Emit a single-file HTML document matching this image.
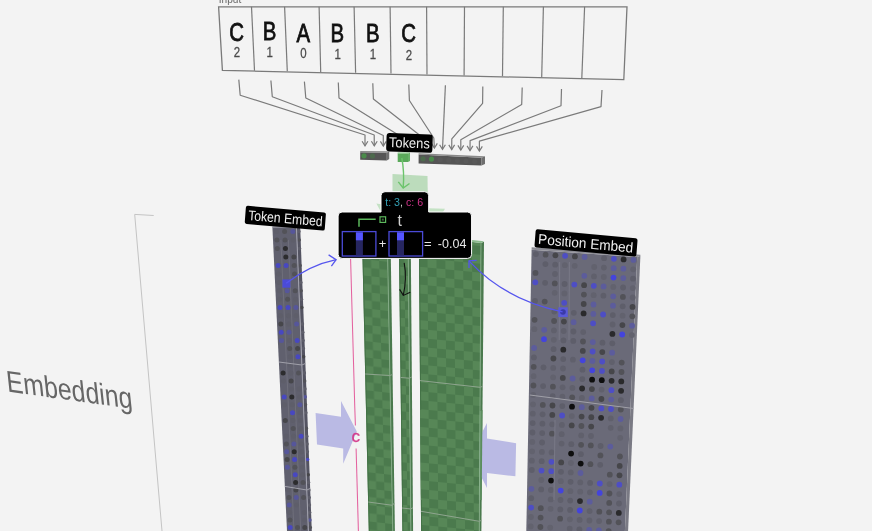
<!DOCTYPE html><html><head><meta charset="utf-8"><style>html,body{margin:0;padding:0;background:#f3f3f3;overflow:hidden}svg{display:block;filter:blur(0.35px)}text{font-family:"Liberation Sans",sans-serif}</style></head><body><svg width="872" height="531" viewBox="0 0 872 531" font-family="Liberation Sans, sans-serif"><rect width="872" height="531" fill="#f3f3f3"/>
<polyline points="153.7,215.5 134.7,214.4 162,531" fill="none" stroke="#c4c4c4" stroke-width="1" />
<text transform="translate(7.6,391.6) rotate(7.8) skewX(14)" font-size="29.5" fill="#666" textLength="127" lengthAdjust="spacingAndGlyphs">Embedding</text>
<text x="218.8" y="3" font-size="10.5" fill="#666" textLength="22.5" lengthAdjust="spacingAndGlyphs">Input</text>
<polygon points="218.6,6.8 627,6.8 623.8,79.7 222.4,70.4" fill="none" stroke="#7a7a7a" stroke-width="1.3"/>
<polyline points="251.5,6.8 254.5,70.8" fill="none" stroke="#7a7a7a" stroke-width="1.2" />
<polyline points="284.6,6.8 287.3,71.3" fill="none" stroke="#7a7a7a" stroke-width="1.2" />
<polyline points="319.1,6.8 320.7,72.1" fill="none" stroke="#7a7a7a" stroke-width="1.2" />
<polyline points="354.1,6.8 355.6,72.8" fill="none" stroke="#7a7a7a" stroke-width="1.2" />
<polyline points="390.1,6.8 391,73.5" fill="none" stroke="#7a7a7a" stroke-width="1.2" />
<polyline points="426.6,6.8 427,74.5" fill="none" stroke="#7a7a7a" stroke-width="1.2" />
<polyline points="464.5,6.8 464.1,75.5" fill="none" stroke="#7a7a7a" stroke-width="1.2" />
<polyline points="503.3,6.8 502.5,76.3" fill="none" stroke="#7a7a7a" stroke-width="1.2" />
<polyline points="543.4,6.8 541.7,77.2" fill="none" stroke="#7a7a7a" stroke-width="1.2" />
<polyline points="584.6,6.8 581.8,78.5" fill="none" stroke="#7a7a7a" stroke-width="1.2" />
<text transform="translate(236.6,40.6) scale(0.8,1)" font-size="25.5" text-anchor="middle" fill="#111" stroke="#111" stroke-width="0.8">C</text>
<text transform="translate(236.9,56.7) scale(0.82,1)" font-size="14" text-anchor="middle" fill="#4a4a4a" stroke="#4a4a4a" stroke-width="0.25">2</text>
<text transform="translate(269.5,40.4) scale(0.8,1)" font-size="25.5" text-anchor="middle" fill="#111" stroke="#111" stroke-width="0.8">B</text>
<text transform="translate(269.8,57.2) scale(0.82,1)" font-size="14" text-anchor="middle" fill="#4a4a4a" stroke="#4a4a4a" stroke-width="0.25">1</text>
<text transform="translate(303.2,41.5) scale(0.8,1)" font-size="25.5" text-anchor="middle" fill="#111" stroke="#111" stroke-width="0.8">A</text>
<text transform="translate(303.5,58.2) scale(0.82,1)" font-size="14" text-anchor="middle" fill="#4a4a4a" stroke="#4a4a4a" stroke-width="0.25">0</text>
<text transform="translate(337.4,41.5) scale(0.8,1)" font-size="25.5" text-anchor="middle" fill="#111" stroke="#111" stroke-width="0.8">B</text>
<text transform="translate(337.7,58.8) scale(0.82,1)" font-size="14" text-anchor="middle" fill="#4a4a4a" stroke="#4a4a4a" stroke-width="0.25">1</text>
<text transform="translate(372.7,41.8) scale(0.8,1)" font-size="25.5" text-anchor="middle" fill="#111" stroke="#111" stroke-width="0.8">B</text>
<text transform="translate(373,59.2) scale(0.82,1)" font-size="14" text-anchor="middle" fill="#4a4a4a" stroke="#4a4a4a" stroke-width="0.25">1</text>
<text transform="translate(408.6,42.3) scale(0.8,1)" font-size="25.5" text-anchor="middle" fill="#111" stroke="#111" stroke-width="0.8">C</text>
<text transform="translate(408.9,60) scale(0.82,1)" font-size="14" text-anchor="middle" fill="#4a4a4a" stroke="#4a4a4a" stroke-width="0.25">2</text>
<polyline points="238.8,79.6 240.2,95.2 365,135 365,145.8" fill="none" stroke="#7a7a7a" stroke-width="1.2" stroke-linejoin="round"/>
<polyline points="362.1,141.2 365,145.8 367.9,141.2" fill="none" stroke="#7a7a7a" stroke-width="1.2" />
<polyline points="270.9,80.5 272.3,96.8 374.2,135 374.3,145.8" fill="none" stroke="#7a7a7a" stroke-width="1.2" stroke-linejoin="round"/>
<polyline points="371.4,141.2 374.3,145.8 377.2,141.2" fill="none" stroke="#7a7a7a" stroke-width="1.2" />
<polyline points="304.4,81.6 305.8,98 383.3,135.5 383.3,146" fill="none" stroke="#7a7a7a" stroke-width="1.2" stroke-linejoin="round"/>
<polyline points="380.4,141.4 383.3,146 386.2,141.4" fill="none" stroke="#7a7a7a" stroke-width="1.2" />
<polyline points="338.3,82.5 339,98 400,136 401,146" fill="none" stroke="#7a7a7a" stroke-width="1.2" stroke-linejoin="round"/>
<polyline points="398.1,141.4 401,146 403.9,141.4" fill="none" stroke="#7a7a7a" stroke-width="1.2" />
<polyline points="372.8,83.3 373.4,99 422,137 422.3,147" fill="none" stroke="#7a7a7a" stroke-width="1.2" stroke-linejoin="round"/>
<polyline points="419.4,142.4 422.3,147 425.2,142.4" fill="none" stroke="#7a7a7a" stroke-width="1.2" />
<polyline points="408.8,84.6 409.4,100.5 433.8,138 434.4,148" fill="none" stroke="#7a7a7a" stroke-width="1.2" stroke-linejoin="round"/>
<polyline points="431.5,143.4 434.4,148 437.3,143.4" fill="none" stroke="#7a7a7a" stroke-width="1.2" />
<polyline points="445.4,85.3 442.5,149.3" fill="none" stroke="#7a7a7a" stroke-width="1.2" stroke-linejoin="round"/>
<polyline points="439.6,144.7 442.5,149.3 445.4,144.7" fill="none" stroke="#7a7a7a" stroke-width="1.2" />
<polyline points="482.8,86.4 482.6,103.3 451.8,138.8 451.7,149.5" fill="none" stroke="#7a7a7a" stroke-width="1.2" stroke-linejoin="round"/>
<polyline points="448.8,144.9 451.7,149.5 454.6,144.9" fill="none" stroke="#7a7a7a" stroke-width="1.2" />
<polyline points="522.2,87.6 521.7,104.5 460.8,139.7 460.8,150" fill="none" stroke="#7a7a7a" stroke-width="1.2" stroke-linejoin="round"/>
<polyline points="457.9,145.4 460.8,150 463.7,145.4" fill="none" stroke="#7a7a7a" stroke-width="1.2" />
<polyline points="561.5,88.9 561,105.8 470.1,140.6 470,150.5" fill="none" stroke="#7a7a7a" stroke-width="1.2" stroke-linejoin="round"/>
<polyline points="467.1,145.9 470,150.5 472.9,145.9" fill="none" stroke="#7a7a7a" stroke-width="1.2" />
<polyline points="602,90 601,106.6 479.4,141.2 479.4,151" fill="none" stroke="#7a7a7a" stroke-width="1.2" stroke-linejoin="round"/>
<polyline points="476.5,146.4 479.4,151 482.3,146.4" fill="none" stroke="#7a7a7a" stroke-width="1.2" />
<polygon points="360.2,152.2 386.8,152.8 386.8,160.5 360.2,159.8" fill="#555" />
<polygon points="360.2,151 389.2,151.3 386.8,152.8 360.2,152.2" fill="#8a8a8a" />
<polygon points="386.8,152.8 389.2,151.3 389.2,159 386.8,160.5" fill="#6e6e6e" />
<circle cx="364" cy="155.8" r="2.6" fill="#4a8a4a"/><circle cx="372.5" cy="155.9" r="2.6" fill="#4d6a4d"/>
<polygon points="418.6,154.5 481.5,157.8 481.5,165.6 418.6,163.4" fill="#555" />
<polygon points="418.6,153.3 485,156.3 481.5,157.8 418.6,154.5" fill="#8a8a8a" />
<polygon points="481.5,157.8 485,156.3 485,164.1 481.5,165.6" fill="#6e6e6e" />
<circle cx="423" cy="158.8" r="2.6" fill="#4d6a4d"/><circle cx="431.5" cy="159.1" r="2.6" fill="#4a8a4a"/>
<circle cx="440.2" cy="159.7" r="2.6" fill="#595959"/>
<circle cx="448.8" cy="160.2" r="2.6" fill="#595959"/>
<circle cx="457.4" cy="160.6" r="2.6" fill="#595959"/>
<circle cx="466" cy="161.1" r="2.6" fill="#595959"/>
<circle cx="474.6" cy="161.5" r="2.6" fill="#595959"/>
<polygon points="397.7,153.5 408,153.8 408,162 397.7,161.9" fill="#5aa85a" />
<polygon points="397.7,152.6 410,152.6 408,153.8 397.7,153.5" fill="#79c079" />
<polygon points="408,153.8 410,152.6 410,161 408,162" fill="#68b068" />
<g transform="translate(386.7,133) rotate(2)"><rect x="0" y="0" width="46.2" height="18.3" rx="3" fill="#000"/><text x="2.6" y="13.9" font-size="14.2" fill="#eee" textLength="40.8" lengthAdjust="spacingAndGlyphs">Tokens</text></g>
<polygon points="392.5,174.1 427.5,176.1 428,212 392.5,212" fill="#bcdcbc" />
<polygon points="376.4,203.5 392,206 392,212 381,212" fill="#c4e2c4" />
<polygon points="428.5,208.3 445,208.8 443,212 428.5,212" fill="#c4e2c4" />
<path d="M401.8,158 Q404.5,172 403.2,187.6" fill="none" stroke="#6cc46c" stroke-width="1.4"/>
<polyline points="398.3,181.9 403.2,188 409.5,183.5" fill="none" stroke="#6cc46c" stroke-width="1.4" />
<polygon points="272.4,227.5 296.5,228 308.4,531 287,531" fill="#60606e" />
<polygon points="296.5,228 300.2,227.5 311.8,531 308.4,531" fill="#545462" />
<polygon points="272.4,226.3 300.2,226.3 296.5,228 272.4,228" fill="#8a8a96" />
<polyline points="280.9,240 294,531" fill="none" stroke="#72727e" stroke-width="0.8" />
<polyline points="288.4,240 300.7,531" fill="none" stroke="#72727e" stroke-width="0.8" />
<circle cx="276.5" cy="231.4" r="2.5" fill="#5e5e6a"/>
<circle cx="284.6" cy="231.4" r="2.5" fill="#525258"/>
<circle cx="292.8" cy="231.4" r="2.5" fill="#56569a"/>
<circle cx="298.8" cy="231.4" r="1.8" fill="#5e5e6a"/>
<circle cx="276.9" cy="240" r="2.5" fill="#525258"/>
<circle cx="285" cy="240" r="2.5" fill="#525258"/>
<circle cx="293.2" cy="240" r="2.5" fill="#5e5e6a"/>
<circle cx="299.2" cy="240" r="1.8" fill="#525258"/>
<circle cx="277.3" cy="248.6" r="2.5" fill="#525258"/>
<circle cx="285.4" cy="248.6" r="2.5" fill="#2c2c2e"/>
<circle cx="299.5" cy="248.6" r="1.8" fill="#5e5e6a"/>
<circle cx="285.8" cy="257.1" r="2.5" fill="#2c2c2e"/>
<circle cx="293.9" cy="257.1" r="2.5" fill="#46464a"/>
<circle cx="278.1" cy="265.6" r="2.5" fill="#4848c0"/>
<circle cx="286.1" cy="265.6" r="2.5" fill="#4848c0"/>
<circle cx="294.2" cy="265.6" r="2.5" fill="#525258"/>
<circle cx="300.1" cy="265.6" r="1.8" fill="#525258"/>
<circle cx="278.4" cy="274" r="2.5" fill="#5e5e6a"/>
<circle cx="294.5" cy="274" r="2.5" fill="#525258"/>
<circle cx="278.8" cy="282.5" r="2.5" fill="#5e5e6a"/>
<circle cx="286.9" cy="282.5" r="2.5" fill="#5e5e6a"/>
<circle cx="300.8" cy="282.5" r="1.8" fill="#5e5e6a"/>
<circle cx="279.2" cy="290.8" r="2.5" fill="#5e5e6a"/>
<circle cx="287.2" cy="290.8" r="2.5" fill="#56569a"/>
<circle cx="295.2" cy="290.8" r="2.5" fill="#525258"/>
<circle cx="301.1" cy="290.8" r="1.8" fill="#525258"/>
<circle cx="279.6" cy="299.2" r="2.5" fill="#5e5e6a"/>
<circle cx="287.6" cy="299.2" r="2.5" fill="#525258"/>
<circle cx="295.6" cy="299.2" r="2.5" fill="#5e5e6a"/>
<circle cx="301.4" cy="299.2" r="1.8" fill="#5e5e6a"/>
<circle cx="280" cy="307.5" r="2.5" fill="#4848c0"/>
<circle cx="288" cy="307.5" r="2.5" fill="#4848c0"/>
<circle cx="295.9" cy="307.5" r="2.5" fill="#56569a"/>
<circle cx="301.8" cy="307.5" r="1.8" fill="#46464a"/>
<circle cx="280.4" cy="315.8" r="2.5" fill="#5e5e6a"/>
<circle cx="288.3" cy="315.8" r="2.5" fill="#5e5e6a"/>
<circle cx="296.2" cy="315.8" r="2.5" fill="#5e5e6a"/>
<circle cx="280.8" cy="324.1" r="2.5" fill="#46464a"/>
<circle cx="288.7" cy="324.1" r="2.5" fill="#5e5e6a"/>
<circle cx="296.6" cy="324.1" r="2.5" fill="#56569a"/>
<circle cx="302.4" cy="324.1" r="1.8" fill="#5e5e6a"/>
<circle cx="281.2" cy="332.3" r="2.5" fill="#4848c0"/>
<circle cx="289" cy="332.3" r="2.5" fill="#56569a"/>
<circle cx="302.7" cy="332.3" r="1.8" fill="#5e5e6a"/>
<circle cx="281.5" cy="340.5" r="2.5" fill="#56569a"/>
<circle cx="289.4" cy="340.5" r="2.5" fill="#5e5e6a"/>
<circle cx="297.2" cy="340.5" r="2.5" fill="#4848c0"/>
<circle cx="303" cy="340.5" r="1.8" fill="#5e5e6a"/>
<circle cx="289.7" cy="348.6" r="2.5" fill="#525258"/>
<circle cx="297.6" cy="348.6" r="2.5" fill="#46464a"/>
<circle cx="303.3" cy="348.6" r="1.8" fill="#5e5e6a"/>
<circle cx="290.1" cy="356.8" r="2.5" fill="#5e5e6a"/>
<circle cx="297.9" cy="356.8" r="2.5" fill="#4848c0"/>
<circle cx="303.6" cy="356.8" r="1.8" fill="#46464a"/>
<circle cx="290.4" cy="364.9" r="2.5" fill="#5e5e6a"/>
<circle cx="283.1" cy="372.9" r="2.5" fill="#2c2c2e"/>
<circle cx="290.8" cy="372.9" r="2.5" fill="#5e5e6a"/>
<circle cx="298.5" cy="372.9" r="2.5" fill="#525258"/>
<circle cx="304.3" cy="372.9" r="1.8" fill="#5e5e6a"/>
<circle cx="283.4" cy="380.9" r="2.5" fill="#5e5e6a"/>
<circle cx="291.1" cy="380.9" r="2.5" fill="#46464a"/>
<circle cx="304.6" cy="380.9" r="1.8" fill="#525258"/>
<circle cx="291.5" cy="388.9" r="2.5" fill="#5e5e6a"/>
<circle cx="299.2" cy="388.9" r="2.5" fill="#5e5e6a"/>
<circle cx="304.9" cy="388.9" r="1.8" fill="#5e5e6a"/>
<circle cx="284.2" cy="396.9" r="2.5" fill="#4848c0"/>
<circle cx="291.8" cy="396.9" r="2.5" fill="#2c2c2e"/>
<circle cx="299.5" cy="396.9" r="2.5" fill="#5e5e6a"/>
<circle cx="305.2" cy="396.9" r="1.8" fill="#56569a"/>
<circle cx="284.5" cy="404.8" r="2.5" fill="#5e5e6a"/>
<circle cx="292.2" cy="404.8" r="2.5" fill="#5e5e6a"/>
<circle cx="299.8" cy="404.8" r="2.5" fill="#56569a"/>
<circle cx="305.5" cy="404.8" r="1.8" fill="#525258"/>
<circle cx="292.5" cy="412.7" r="2.5" fill="#4848c0"/>
<circle cx="300.2" cy="412.7" r="2.5" fill="#5e5e6a"/>
<circle cx="305.8" cy="412.7" r="1.8" fill="#5e5e6a"/>
<circle cx="285.3" cy="420.6" r="2.5" fill="#46464a"/>
<circle cx="292.9" cy="420.6" r="2.5" fill="#5e5e6a"/>
<circle cx="300.5" cy="420.6" r="2.5" fill="#5e5e6a"/>
<circle cx="293.2" cy="428.4" r="2.5" fill="#525258"/>
<circle cx="300.8" cy="428.4" r="2.5" fill="#5e5e6a"/>
<circle cx="306.4" cy="428.4" r="1.8" fill="#525258"/>
<circle cx="286" cy="436.3" r="2.5" fill="#5e5e6a"/>
<circle cx="293.6" cy="436.3" r="2.5" fill="#5e5e6a"/>
<circle cx="301.1" cy="436.3" r="2.5" fill="#4848c0"/>
<circle cx="306.7" cy="436.3" r="1.8" fill="#5e5e6a"/>
<circle cx="286.4" cy="444" r="2.5" fill="#525258"/>
<circle cx="293.9" cy="444" r="2.5" fill="#56569a"/>
<circle cx="301.4" cy="444" r="2.5" fill="#5e5e6a"/>
<circle cx="307" cy="444" r="1.8" fill="#5e5e6a"/>
<circle cx="286.7" cy="451.8" r="2.5" fill="#56569a"/>
<circle cx="294.2" cy="451.8" r="2.5" fill="#2c2c2e"/>
<circle cx="301.7" cy="451.8" r="2.5" fill="#5e5e6a"/>
<circle cx="307.3" cy="451.8" r="1.8" fill="#5e5e6a"/>
<circle cx="287.1" cy="459.5" r="2.5" fill="#46464a"/>
<circle cx="294.6" cy="459.5" r="2.5" fill="#4848c0"/>
<circle cx="302" cy="459.5" r="2.5" fill="#5e5e6a"/>
<circle cx="307.6" cy="459.5" r="1.8" fill="#4848c0"/>
<circle cx="287.4" cy="467.2" r="2.5" fill="#56569a"/>
<circle cx="294.9" cy="467.2" r="2.5" fill="#525258"/>
<circle cx="302.4" cy="467.2" r="2.5" fill="#5e5e6a"/>
<circle cx="295.2" cy="474.8" r="2.5" fill="#4848c0"/>
<circle cx="302.7" cy="474.8" r="2.5" fill="#5e5e6a"/>
<circle cx="308.2" cy="474.8" r="1.8" fill="#46464a"/>
<circle cx="288.1" cy="482.4" r="2.5" fill="#5e5e6a"/>
<circle cx="295.6" cy="482.4" r="2.5" fill="#2c2c2e"/>
<circle cx="303" cy="482.4" r="2.5" fill="#525258"/>
<circle cx="308.5" cy="482.4" r="1.8" fill="#5e5e6a"/>
<circle cx="288.5" cy="490" r="2.5" fill="#5e5e6a"/>
<circle cx="295.9" cy="490" r="2.5" fill="#46464a"/>
<circle cx="308.8" cy="490" r="1.8" fill="#5e5e6a"/>
<circle cx="288.9" cy="497.6" r="2.5" fill="#525258"/>
<circle cx="296.2" cy="497.6" r="2.5" fill="#56569a"/>
<circle cx="303.6" cy="497.6" r="2.5" fill="#525258"/>
<circle cx="309.1" cy="497.6" r="1.8" fill="#5e5e6a"/>
<circle cx="289.2" cy="505.1" r="2.5" fill="#56569a"/>
<circle cx="296.5" cy="505.1" r="2.5" fill="#5e5e6a"/>
<circle cx="309.4" cy="505.1" r="1.8" fill="#5e5e6a"/>
<circle cx="289.6" cy="512.6" r="2.5" fill="#5e5e6a"/>
<circle cx="304.2" cy="512.6" r="2.5" fill="#5e5e6a"/>
<circle cx="309.6" cy="512.6" r="1.8" fill="#5e5e6a"/>
<circle cx="289.9" cy="520.1" r="2.5" fill="#525258"/>
<circle cx="304.5" cy="520.1" r="2.5" fill="#5e5e6a"/>
<circle cx="309.9" cy="520.1" r="1.8" fill="#56569a"/>
<circle cx="290.2" cy="527.5" r="2.5" fill="#4848c0"/>
<circle cx="297.5" cy="527.5" r="2.5" fill="#525258"/>
<circle cx="304.8" cy="527.5" r="2.5" fill="#46464a"/>
<circle cx="310.2" cy="527.5" r="1.8" fill="#525258"/>
<polyline points="296.5,228 308.4,531" fill="none" stroke="#a4a4b0" stroke-width="1" />
<polyline points="278.9,362 301.9,365 305.4,363.5" fill="none" stroke="#a0a0aa" stroke-width="1" />
<polyline points="284.9,486.4 306.8,490 310.1,488.5" fill="none" stroke="#a0a0aa" stroke-width="1" />
<rect x="282.4" y="279.4" width="8" height="8.3" fill="#4b4bd8"/>
<polygon points="531.6,249.8 637.2,257.1 624.9,531 526.3,531" fill="#6a6a78" />
<polygon points="637.2,257.1 640.4,255.8 628.1,531 624.9,531" fill="#7a7a84" />
<polygon points="531.6,247.3 640.4,254.8 640.4,255.8 637.2,257.1 531.6,249.8" fill="#8c8c94" />
<circle cx="535.9" cy="254.1" r="2.9" fill="#5e5e6a"/>
<circle cx="545.6" cy="254.7" r="2.9" fill="#525258"/>
<circle cx="555.4" cy="255.3" r="2.9" fill="#46464a"/>
<circle cx="565.1" cy="255.8" r="2.9" fill="#4e4ec4"/>
<circle cx="574.9" cy="256.4" r="2.9" fill="#46464a"/>
<circle cx="584.6" cy="257" r="2.9" fill="#5c5c9c"/>
<circle cx="604.1" cy="258.2" r="2.9" fill="#5e5e6a"/>
<circle cx="613.9" cy="258.8" r="2.9" fill="#4e4ec4"/>
<circle cx="623.6" cy="259.4" r="2.9" fill="#2a2a2c"/>
<circle cx="633.4" cy="259.9" r="2.9" fill="#5c5c9c"/>
<circle cx="545.4" cy="264.1" r="2.9" fill="#5e5e6a"/>
<circle cx="555.2" cy="264.7" r="2.9" fill="#5e5e6a"/>
<circle cx="564.9" cy="265.2" r="2.9" fill="#62626e"/>
<circle cx="574.7" cy="265.8" r="2.9" fill="#62626e"/>
<circle cx="594.2" cy="267" r="2.9" fill="#62626e"/>
<circle cx="603.9" cy="267.6" r="2.9" fill="#60606c"/>
<circle cx="613.7" cy="268.2" r="2.9" fill="#5c5c9c"/>
<circle cx="623.4" cy="268.7" r="2.9" fill="#5c5c9c"/>
<circle cx="633.2" cy="269.3" r="2.9" fill="#62626e"/>
<circle cx="535.5" cy="272.9" r="2.9" fill="#525258"/>
<circle cx="555" cy="274" r="2.9" fill="#60606c"/>
<circle cx="584.3" cy="275.8" r="2.9" fill="#5c5c9c"/>
<circle cx="594" cy="276.4" r="2.9" fill="#60606c"/>
<circle cx="603.8" cy="277" r="2.9" fill="#62626e"/>
<circle cx="613.5" cy="277.6" r="2.9" fill="#4444dc"/>
<circle cx="623.3" cy="278.1" r="2.9" fill="#5c5c9c"/>
<circle cx="633" cy="278.7" r="2.9" fill="#5e5e6a"/>
<circle cx="535.3" cy="282.3" r="2.9" fill="#4e4ec4"/>
<circle cx="545.1" cy="282.8" r="2.9" fill="#5e5e6a"/>
<circle cx="554.8" cy="283.4" r="2.9" fill="#525258"/>
<circle cx="564.6" cy="284" r="2.9" fill="#5e5e6a"/>
<circle cx="574.3" cy="284.6" r="2.9" fill="#4e4ec4"/>
<circle cx="584.1" cy="285.2" r="2.9" fill="#46464a"/>
<circle cx="593.8" cy="285.8" r="2.9" fill="#4e4ec4"/>
<circle cx="603.6" cy="286.4" r="2.9" fill="#5c5c9c"/>
<circle cx="613.3" cy="286.9" r="2.9" fill="#62626e"/>
<circle cx="623.1" cy="287.5" r="2.9" fill="#5e5e6a"/>
<circle cx="632.8" cy="288.1" r="2.9" fill="#62626e"/>
<circle cx="554.7" cy="292.8" r="2.9" fill="#62626e"/>
<circle cx="564.4" cy="293.4" r="2.9" fill="#62626e"/>
<circle cx="583.9" cy="294.6" r="2.9" fill="#525258"/>
<circle cx="593.7" cy="295.2" r="2.9" fill="#62626e"/>
<circle cx="603.4" cy="295.7" r="2.9" fill="#5e5e6a"/>
<circle cx="613.2" cy="296.3" r="2.9" fill="#5c5c9c"/>
<circle cx="622.9" cy="296.9" r="2.9" fill="#525258"/>
<circle cx="632.7" cy="297.5" r="2.9" fill="#60606c"/>
<circle cx="535" cy="301" r="2.9" fill="#5e5e6a"/>
<circle cx="544.7" cy="301.6" r="2.9" fill="#525258"/>
<circle cx="564.2" cy="302.8" r="2.9" fill="#4e4ec4"/>
<circle cx="583.7" cy="304" r="2.9" fill="#46464a"/>
<circle cx="593.5" cy="304.5" r="2.9" fill="#5c5c9c"/>
<circle cx="613" cy="305.7" r="2.9" fill="#5c5c9c"/>
<circle cx="622.7" cy="306.3" r="2.9" fill="#5e5e6a"/>
<circle cx="632.5" cy="306.9" r="2.9" fill="#46464a"/>
<circle cx="554.3" cy="311.6" r="2.9" fill="#5e5e6a"/>
<circle cx="564.1" cy="312.2" r="2.9" fill="#4e4ec4"/>
<circle cx="573.8" cy="312.8" r="2.9" fill="#5e5e6a"/>
<circle cx="583.6" cy="313.4" r="2.9" fill="#2a2a2c"/>
<circle cx="593.3" cy="313.9" r="2.9" fill="#5c5c9c"/>
<circle cx="603.1" cy="314.5" r="2.9" fill="#4e4ec4"/>
<circle cx="612.8" cy="315.1" r="2.9" fill="#5e5e6a"/>
<circle cx="622.6" cy="315.7" r="2.9" fill="#62626e"/>
<circle cx="632.3" cy="316.3" r="2.9" fill="#525258"/>
<circle cx="534.6" cy="319.8" r="2.9" fill="#525258"/>
<circle cx="554.1" cy="321" r="2.9" fill="#525258"/>
<circle cx="563.9" cy="321.6" r="2.9" fill="#46464a"/>
<circle cx="573.6" cy="322.2" r="2.9" fill="#5c5c9c"/>
<circle cx="593.1" cy="323.3" r="2.9" fill="#4e4ec4"/>
<circle cx="612.6" cy="324.5" r="2.9" fill="#60606c"/>
<circle cx="622.4" cy="325.1" r="2.9" fill="#46464a"/>
<circle cx="632.1" cy="325.7" r="2.9" fill="#5c5c9c"/>
<circle cx="534.4" cy="329.2" r="2.9" fill="#62626e"/>
<circle cx="544.2" cy="329.8" r="2.9" fill="#5c5c9c"/>
<circle cx="553.9" cy="330.4" r="2.9" fill="#60606c"/>
<circle cx="563.7" cy="331" r="2.9" fill="#60606c"/>
<circle cx="573.4" cy="331.5" r="2.9" fill="#5e5e6a"/>
<circle cx="583.2" cy="332.1" r="2.9" fill="#60606c"/>
<circle cx="612.4" cy="333.9" r="2.9" fill="#2a2a2c"/>
<circle cx="622.2" cy="334.5" r="2.9" fill="#4444dc"/>
<circle cx="631.9" cy="335.1" r="2.9" fill="#62626e"/>
<circle cx="544" cy="339.2" r="2.9" fill="#4444dc"/>
<circle cx="553.8" cy="339.8" r="2.9" fill="#62626e"/>
<circle cx="563.5" cy="340.4" r="2.9" fill="#5e5e6a"/>
<circle cx="573.3" cy="340.9" r="2.9" fill="#5e5e6a"/>
<circle cx="583" cy="341.5" r="2.9" fill="#525258"/>
<circle cx="592.8" cy="342.1" r="2.9" fill="#5c5c9c"/>
<circle cx="602.5" cy="342.7" r="2.9" fill="#5e5e6a"/>
<circle cx="612.3" cy="343.3" r="2.9" fill="#5e5e6a"/>
<circle cx="534.1" cy="348" r="2.9" fill="#5c5c9c"/>
<circle cx="553.6" cy="349.2" r="2.9" fill="#5e5e6a"/>
<circle cx="563.3" cy="349.7" r="2.9" fill="#2a2a2c"/>
<circle cx="582.8" cy="350.9" r="2.9" fill="#46464a"/>
<circle cx="592.6" cy="351.5" r="2.9" fill="#4e4ec4"/>
<circle cx="602.3" cy="352.1" r="2.9" fill="#46464a"/>
<circle cx="612.1" cy="352.7" r="2.9" fill="#5c5c9c"/>
<circle cx="533.9" cy="357.4" r="2.9" fill="#5e5e6a"/>
<circle cx="553.4" cy="358.5" r="2.9" fill="#46464a"/>
<circle cx="563.2" cy="359.1" r="2.9" fill="#5e5e6a"/>
<circle cx="572.9" cy="359.7" r="2.9" fill="#60606c"/>
<circle cx="582.7" cy="360.3" r="2.9" fill="#4444dc"/>
<circle cx="592.4" cy="360.9" r="2.9" fill="#5c5c9c"/>
<circle cx="602.2" cy="361.5" r="2.9" fill="#4e4ec4"/>
<circle cx="611.9" cy="362.1" r="2.9" fill="#60606c"/>
<circle cx="621.7" cy="362.6" r="2.9" fill="#525258"/>
<circle cx="533.7" cy="366.8" r="2.9" fill="#525258"/>
<circle cx="543.5" cy="367.3" r="2.9" fill="#5e5e6a"/>
<circle cx="553.2" cy="367.9" r="2.9" fill="#60606c"/>
<circle cx="563" cy="368.5" r="2.9" fill="#60606c"/>
<circle cx="582.5" cy="369.7" r="2.9" fill="#5e5e6a"/>
<circle cx="592.2" cy="370.3" r="2.9" fill="#4444dc"/>
<circle cx="602" cy="370.9" r="2.9" fill="#4e4ec4"/>
<circle cx="611.7" cy="371.4" r="2.9" fill="#46464a"/>
<circle cx="621.5" cy="372" r="2.9" fill="#525258"/>
<circle cx="533.6" cy="376.2" r="2.9" fill="#62626e"/>
<circle cx="553.1" cy="377.3" r="2.9" fill="#62626e"/>
<circle cx="562.8" cy="377.9" r="2.9" fill="#46464a"/>
<circle cx="572.6" cy="378.5" r="2.9" fill="#5c5c9c"/>
<circle cx="582.3" cy="379.1" r="2.9" fill="#5e5e6a"/>
<circle cx="592.1" cy="379.7" r="2.9" fill="#0e0e0e"/>
<circle cx="601.8" cy="380.2" r="2.9" fill="#0e0e0e"/>
<circle cx="611.6" cy="380.8" r="2.9" fill="#2a2a2c"/>
<circle cx="621.3" cy="381.4" r="2.9" fill="#2a2a2c"/>
<circle cx="533.4" cy="385.5" r="2.9" fill="#525258"/>
<circle cx="543.1" cy="386.1" r="2.9" fill="#5e5e6a"/>
<circle cx="552.9" cy="386.7" r="2.9" fill="#525258"/>
<circle cx="562.6" cy="387.3" r="2.9" fill="#60606c"/>
<circle cx="572.4" cy="387.9" r="2.9" fill="#60606c"/>
<circle cx="582.1" cy="388.5" r="2.9" fill="#2a2a2c"/>
<circle cx="591.9" cy="389.1" r="2.9" fill="#46464a"/>
<circle cx="601.6" cy="389.6" r="2.9" fill="#60606c"/>
<circle cx="611.4" cy="390.2" r="2.9" fill="#4e4ec4"/>
<circle cx="621.1" cy="390.8" r="2.9" fill="#2a2a2c"/>
<circle cx="533.2" cy="394.9" r="2.9" fill="#62626e"/>
<circle cx="552.7" cy="396.1" r="2.9" fill="#5e5e6a"/>
<circle cx="562.4" cy="396.7" r="2.9" fill="#60606c"/>
<circle cx="572.2" cy="397.3" r="2.9" fill="#525258"/>
<circle cx="581.9" cy="397.9" r="2.9" fill="#60606c"/>
<circle cx="591.7" cy="398.4" r="2.9" fill="#5c5c9c"/>
<circle cx="601.4" cy="399" r="2.9" fill="#46464a"/>
<circle cx="611.2" cy="399.6" r="2.9" fill="#5c5c9c"/>
<circle cx="620.9" cy="400.2" r="2.9" fill="#5e5e6a"/>
<circle cx="533" cy="404.3" r="2.9" fill="#62626e"/>
<circle cx="542.8" cy="404.9" r="2.9" fill="#525258"/>
<circle cx="552.5" cy="405.5" r="2.9" fill="#46464a"/>
<circle cx="562.3" cy="406.1" r="2.9" fill="#5e5e6a"/>
<circle cx="572" cy="406.7" r="2.9" fill="#0e0e0e"/>
<circle cx="581.8" cy="407.2" r="2.9" fill="#5c5c9c"/>
<circle cx="591.5" cy="407.8" r="2.9" fill="#46464a"/>
<circle cx="601.3" cy="408.4" r="2.9" fill="#4e4ec4"/>
<circle cx="611" cy="409" r="2.9" fill="#4e4ec4"/>
<circle cx="620.8" cy="409.6" r="2.9" fill="#525258"/>
<circle cx="532.8" cy="413.7" r="2.9" fill="#60606c"/>
<circle cx="542.6" cy="414.3" r="2.9" fill="#5e5e6a"/>
<circle cx="552.3" cy="414.9" r="2.9" fill="#46464a"/>
<circle cx="562.1" cy="415.5" r="2.9" fill="#4e4ec4"/>
<circle cx="571.8" cy="416.1" r="2.9" fill="#62626e"/>
<circle cx="581.6" cy="416.6" r="2.9" fill="#46464a"/>
<circle cx="591.3" cy="417.2" r="2.9" fill="#46464a"/>
<circle cx="601.1" cy="417.8" r="2.9" fill="#2a2a2c"/>
<circle cx="610.8" cy="418.4" r="2.9" fill="#60606c"/>
<circle cx="620.6" cy="419" r="2.9" fill="#5c5c9c"/>
<circle cx="532.7" cy="423.1" r="2.9" fill="#5e5e6a"/>
<circle cx="542.4" cy="423.7" r="2.9" fill="#5e5e6a"/>
<circle cx="552.2" cy="424.3" r="2.9" fill="#60606c"/>
<circle cx="561.9" cy="424.9" r="2.9" fill="#60606c"/>
<circle cx="571.7" cy="425.4" r="2.9" fill="#46464a"/>
<circle cx="581.4" cy="426" r="2.9" fill="#525258"/>
<circle cx="591.2" cy="426.6" r="2.9" fill="#46464a"/>
<circle cx="610.7" cy="427.8" r="2.9" fill="#60606c"/>
<circle cx="620.4" cy="428.4" r="2.9" fill="#62626e"/>
<circle cx="532.5" cy="432.5" r="2.9" fill="#5e5e6a"/>
<circle cx="542.2" cy="433.1" r="2.9" fill="#5e5e6a"/>
<circle cx="552" cy="433.7" r="2.9" fill="#525258"/>
<circle cx="561.7" cy="434.2" r="2.9" fill="#60606c"/>
<circle cx="581.2" cy="435.4" r="2.9" fill="#60606c"/>
<circle cx="591" cy="436" r="2.9" fill="#60606c"/>
<circle cx="620.2" cy="437.8" r="2.9" fill="#62626e"/>
<circle cx="532.3" cy="441.9" r="2.9" fill="#62626e"/>
<circle cx="542.1" cy="442.5" r="2.9" fill="#5e5e6a"/>
<circle cx="561.6" cy="443.6" r="2.9" fill="#60606c"/>
<circle cx="571.3" cy="444.2" r="2.9" fill="#5e5e6a"/>
<circle cx="581.1" cy="444.8" r="2.9" fill="#525258"/>
<circle cx="590.8" cy="445.4" r="2.9" fill="#525258"/>
<circle cx="600.6" cy="446" r="2.9" fill="#5e5e6a"/>
<circle cx="610.3" cy="446.6" r="2.9" fill="#5c5c9c"/>
<circle cx="532.1" cy="451.3" r="2.9" fill="#62626e"/>
<circle cx="541.9" cy="451.9" r="2.9" fill="#60606c"/>
<circle cx="551.6" cy="452.4" r="2.9" fill="#60606c"/>
<circle cx="571.1" cy="453.6" r="2.9" fill="#0e0e0e"/>
<circle cx="580.9" cy="454.2" r="2.9" fill="#5e5e6a"/>
<circle cx="600.4" cy="455.4" r="2.9" fill="#525258"/>
<circle cx="619.9" cy="456.5" r="2.9" fill="#525258"/>
<circle cx="531.9" cy="460.7" r="2.9" fill="#60606c"/>
<circle cx="541.7" cy="461.2" r="2.9" fill="#5e5e6a"/>
<circle cx="551.4" cy="461.8" r="2.9" fill="#4e4ec4"/>
<circle cx="561.2" cy="462.4" r="2.9" fill="#46464a"/>
<circle cx="570.9" cy="463" r="2.9" fill="#62626e"/>
<circle cx="580.7" cy="463.6" r="2.9" fill="#0e0e0e"/>
<circle cx="590.4" cy="464.2" r="2.9" fill="#525258"/>
<circle cx="600.2" cy="464.8" r="2.9" fill="#5e5e6a"/>
<circle cx="619.7" cy="465.9" r="2.9" fill="#46464a"/>
<circle cx="531.8" cy="470" r="2.9" fill="#5e5e6a"/>
<circle cx="541.5" cy="470.6" r="2.9" fill="#4e4ec4"/>
<circle cx="551.3" cy="471.2" r="2.9" fill="#4e4ec4"/>
<circle cx="561" cy="471.8" r="2.9" fill="#5e5e6a"/>
<circle cx="570.8" cy="472.4" r="2.9" fill="#60606c"/>
<circle cx="580.5" cy="473" r="2.9" fill="#5c5c9c"/>
<circle cx="609.8" cy="474.7" r="2.9" fill="#525258"/>
<circle cx="619.5" cy="475.3" r="2.9" fill="#46464a"/>
<circle cx="541.3" cy="480" r="2.9" fill="#62626e"/>
<circle cx="551.1" cy="480.6" r="2.9" fill="#0e0e0e"/>
<circle cx="560.8" cy="481.2" r="2.9" fill="#62626e"/>
<circle cx="570.6" cy="481.8" r="2.9" fill="#5e5e6a"/>
<circle cx="580.3" cy="482.4" r="2.9" fill="#60606c"/>
<circle cx="590.1" cy="482.9" r="2.9" fill="#5e5e6a"/>
<circle cx="599.8" cy="483.5" r="2.9" fill="#4e4ec4"/>
<circle cx="609.6" cy="484.1" r="2.9" fill="#62626e"/>
<circle cx="619.3" cy="484.7" r="2.9" fill="#4e4ec4"/>
<circle cx="531.4" cy="488.8" r="2.9" fill="#5c5c9c"/>
<circle cx="541.2" cy="489.4" r="2.9" fill="#5e5e6a"/>
<circle cx="550.9" cy="490" r="2.9" fill="#60606c"/>
<circle cx="560.7" cy="490.6" r="2.9" fill="#4444dc"/>
<circle cx="570.4" cy="491.2" r="2.9" fill="#62626e"/>
<circle cx="580.2" cy="491.7" r="2.9" fill="#62626e"/>
<circle cx="589.9" cy="492.3" r="2.9" fill="#60606c"/>
<circle cx="599.7" cy="492.9" r="2.9" fill="#4444dc"/>
<circle cx="609.4" cy="493.5" r="2.9" fill="#525258"/>
<circle cx="619.2" cy="494.1" r="2.9" fill="#60606c"/>
<circle cx="531.2" cy="498.2" r="2.9" fill="#5e5e6a"/>
<circle cx="550.7" cy="499.4" r="2.9" fill="#60606c"/>
<circle cx="560.5" cy="500" r="2.9" fill="#60606c"/>
<circle cx="570.2" cy="500.6" r="2.9" fill="#5e5e6a"/>
<circle cx="580" cy="501.1" r="2.9" fill="#2a2a2c"/>
<circle cx="589.7" cy="501.7" r="2.9" fill="#5c5c9c"/>
<circle cx="609.2" cy="502.9" r="2.9" fill="#525258"/>
<circle cx="619" cy="503.5" r="2.9" fill="#5e5e6a"/>
<circle cx="531.1" cy="507.6" r="2.9" fill="#4e4ec4"/>
<circle cx="540.8" cy="508.2" r="2.9" fill="#525258"/>
<circle cx="550.6" cy="508.8" r="2.9" fill="#62626e"/>
<circle cx="560.3" cy="509.4" r="2.9" fill="#5e5e6a"/>
<circle cx="570.1" cy="509.9" r="2.9" fill="#5e5e6a"/>
<circle cx="579.8" cy="510.5" r="2.9" fill="#4444dc"/>
<circle cx="589.6" cy="511.1" r="2.9" fill="#60606c"/>
<circle cx="599.3" cy="511.7" r="2.9" fill="#525258"/>
<circle cx="609.1" cy="512.3" r="2.9" fill="#525258"/>
<circle cx="618.8" cy="512.9" r="2.9" fill="#2a2a2c"/>
<circle cx="530.9" cy="517" r="2.9" fill="#62626e"/>
<circle cx="540.6" cy="517.6" r="2.9" fill="#525258"/>
<circle cx="560.1" cy="518.7" r="2.9" fill="#525258"/>
<circle cx="569.9" cy="519.3" r="2.9" fill="#62626e"/>
<circle cx="579.6" cy="519.9" r="2.9" fill="#60606c"/>
<circle cx="589.4" cy="520.5" r="2.9" fill="#60606c"/>
<circle cx="599.1" cy="521.1" r="2.9" fill="#60606c"/>
<circle cx="608.9" cy="521.7" r="2.9" fill="#525258"/>
<circle cx="618.6" cy="522.3" r="2.9" fill="#525258"/>
<circle cx="530.7" cy="526.4" r="2.9" fill="#62626e"/>
<circle cx="540.4" cy="527" r="2.9" fill="#525258"/>
<circle cx="550.2" cy="527.6" r="2.9" fill="#62626e"/>
<circle cx="569.7" cy="528.7" r="2.9" fill="#60606c"/>
<circle cx="579.4" cy="529.3" r="2.9" fill="#5e5e6a"/>
<circle cx="589.2" cy="529.9" r="2.9" fill="#5c5c9c"/>
<circle cx="598.9" cy="530.5" r="2.9" fill="#5c5c9c"/>
<circle cx="608.7" cy="531.1" r="2.9" fill="#525258"/>
<polyline points="559.7,262 559.2,340" fill="none" stroke="#7c7c8a" stroke-width="0.8" />
<polyline points="569.4,262 569,340" fill="none" stroke="#7c7c8a" stroke-width="0.8" />
<polyline points="555,420 554,500" fill="none" stroke="#7c7c8a" stroke-width="0.8" />
<polyline points="529.8,395 633.5,408.5" fill="none" stroke="#a0a0a8" stroke-width="1" />
<rect x="558.3" y="307.3" width="9.5" height="9.8" fill="#5a5ad8"/><circle cx="563" cy="312" r="2.8" fill="#3a3aa8"/>
<defs><pattern id="chA" patternUnits="userSpaceOnUse" width="16.4" height="16.4" patternTransform="translate(365.7,390.2) skewX(1.3) skewY(6.5)"><rect width="16.4" height="16.4" fill="#578757"/><rect width="8.2" height="8.2" fill="#4b7a4d"/><rect x="8.2" y="8.2" width="8.2" height="8.2" fill="#4b7a4d"/></pattern><pattern id="chB" patternUnits="userSpaceOnUse" width="17" height="17" patternTransform="translate(405.9,386.2) skewX(0.7) skewY(5)"><rect width="17" height="17" fill="#578757"/><rect width="8.5" height="8.5" fill="#4b7a4d"/><rect x="8.5" y="8.5" width="8.5" height="8.5" fill="#4b7a4d"/></pattern><pattern id="chC" patternUnits="userSpaceOnUse" width="17.8" height="17.8" patternTransform="translate(419,311.2) skewX(0.4) skewY(5.5)"><rect width="17.8" height="17.8" fill="#578757"/><rect width="8.9" height="8.9" fill="#4b7a4d"/><rect x="8.9" y="8.9" width="8.9" height="8.9" fill="#4b7a4d"/></pattern></defs>
<polygon points="362,236 387.3,237 392.8,531 368.8,531" fill="url(#chA)" />
<polygon points="387.3,237 390.5,235.8 394.9,531 392.8,531" fill="#4a794d" />
<polyline points="387.3,237 392.8,531" fill="none" stroke="#86ad88" stroke-width="0.9" />
<polyline points="362.5,236 369.3,531" fill="none" stroke="#437246" stroke-width="1" />
<polygon points="398.8,236 408.1,237 410.9,531 402.4,531" fill="url(#chB)" />
<polygon points="408.1,237 410.7,235.8 413.1,531 410.9,531" fill="#4a794d" />
<polyline points="408.1,237 410.9,531" fill="none" stroke="#86ad88" stroke-width="0.9" />
<polyline points="399.3,236 402.9,531" fill="none" stroke="#437246" stroke-width="1" />
<polygon points="418.9,235.5 481,243 479.3,531 421.1,531" fill="url(#chC)" />
<polygon points="481,243 484,241.8 481.4,531 479.3,531" fill="#4a794d" />
<polyline points="481,243 479.3,531" fill="none" stroke="#86ad88" stroke-width="0.9" />
<polyline points="419.4,235.5 421.6,531" fill="none" stroke="#437246" stroke-width="1" />
<polygon points="418.9,234.3 484,241.3 481,243 418.9,235.5" fill="#8cba8e" />
<polyline points="365.2,374 389.9,375.5 392.6,374.5" fill="none" stroke="#8fa58f" stroke-width="1" />
<polyline points="368.2,502 392.4,505.3 394.4,503" fill="none" stroke="#8fa58f" stroke-width="1" />
<polyline points="400.5,377.5 409.4,378.2 411.8,377" fill="none" stroke="#8fa58f" stroke-width="1" />
<polyline points="402.1,508 410.7,509 412.9,507.8" fill="none" stroke="#8fa58f" stroke-width="1" />
<polyline points="420,380.6 480.1,387.3 482.7,386.3" fill="none" stroke="#8fa58f" stroke-width="1" />
<polyline points="421,511.3 479.3,521.3 481.5,520.3" fill="none" stroke="#8fa58f" stroke-width="1" />
<path d="M404.2,262.8 Q407,278 403.3,295.4" fill="none" stroke="#111" stroke-width="1.1"/>
<polyline points="399.6,289.4 403.3,295.4 410.3,292.2" fill="none" stroke="#111" stroke-width="1.1" />
<polyline points="350.4,252 354.8,408 355.4,425.6" fill="none" stroke="#e4629f" stroke-width="1.05" />
<polyline points="356.1,448.5 358.4,531" fill="none" stroke="#e4629f" stroke-width="1.05" />
<polygon points="315.6,412.9 341,416.8 341,401 356.8,431.5 343.2,463.7 343.2,448.5 317,444.6" fill="#babae4" />
<polygon points="487,422.9 487,438.6 516.1,443.2 515.4,476.3 487,472.9 487,488 470,455" fill="#babae4" />
<text x="355.7" y="441.8" font-size="17" stroke="#d43a8c" stroke-width="0.3" text-anchor="middle" fill="#d43a8c">c</text>
<polygon points="420.2,410 480,411 479.4,500 420.9,500" fill="url(#chC)" />
<polygon points="480,411 482.5,410 481.7,500 479.4,500" fill="#5b8d5d" />
<polyline points="480,411 479.4,500" fill="none" stroke="#8fb592" stroke-width="0.9" />
<path d="M286.1,283.2 Q310,265 336.1,259.6" fill="none" stroke="#5555ee" stroke-width="1.3"/>
<polyline points="328.6,254.9 336.1,259.6 331.4,266.2" fill="none" stroke="#5555ee" stroke-width="1.3" />
<path d="M562.6,311.8 Q505,300 469,260.9" fill="none" stroke="#5555ee" stroke-width="1.3"/>
<polyline points="476.6,260.3 469,260.9 469,268.1" fill="none" stroke="#5555ee" stroke-width="1.3" />
<g transform="translate(246,205.7) rotate(4.3) skewY(0.6)"><rect x="0" y="0" width="80.3" height="18.2" rx="2" fill="#000"/><text x="3" y="14" font-size="14" fill="#f0f0f0" textLength="74.5" lengthAdjust="spacingAndGlyphs">Token Embed</text></g>
<g transform="translate(535.8,229) rotate(4.5) skewY(0.8)"><rect x="0" y="0" width="102.3" height="18.3" rx="2" fill="#000"/><text x="3.2" y="14.6" font-size="14.3" fill="#f0f0f0" textLength="95.5" lengthAdjust="spacingAndGlyphs">Position Embed</text></g>
<path d="M385,191.7 H424.7 Q428.7,191.7 428.7,195.7 V212 H467.6 Q471.6,212 471.6,216 V254.4 Q471.6,258.4 467.6,258.4 H342.1 Q338.1,258.4 338.1,254.4 V216 Q338.1,212 342.1,212 H381 V195.7 Q381,191.7 385,191.7 Z" fill="#000" stroke="#fff" stroke-width="1"/>
<text x="385.2" y="205.6" font-size="10.8" textLength="38" lengthAdjust="spacingAndGlyphs"><tspan fill="#33a0b4">t: 3</tspan><tspan fill="#ccc">, </tspan><tspan fill="#cc3388">c: 6</tspan></text>
<polyline points="359,226.8 359,219.2 375.7,219.2" fill="none" stroke="#5cb85c" stroke-width="1.5" />
<rect x="380" y="216.8" width="5.6" height="5.6" fill="none" stroke="#5cb85c" stroke-width="1.2"/><rect x="381.8" y="218.6" width="2" height="2" fill="#3a6a3a"/>
<text x="397.6" y="226.3" font-size="16" fill="#d0d0d0">t</text>
<rect x="342.3" y="231.6" width="33.6" height="24.4" fill="none" stroke="#4a4ad8" stroke-width="1.3"/>
<rect x="355.9" y="232.3" width="7" height="23" fill="#262660"/>
<rect x="355.9" y="232.3" width="7" height="8" fill="#5555ff"/>
<rect x="389" y="231.6" width="33.6" height="24.4" fill="none" stroke="#4a4ad8" stroke-width="1.3"/>
<rect x="397" y="232.3" width="7" height="23" fill="#262660"/>
<rect x="397" y="232.3" width="7" height="8" fill="#5555ff"/>
<text x="382.5" y="248" font-size="13" text-anchor="middle" fill="#e8e8e8">+</text>
<text x="427.8" y="248" font-size="13" text-anchor="middle" fill="#e8e8e8">=</text>
<text x="437.8" y="247.9" font-size="12.8" fill="#e8e8e8" textLength="28.6" lengthAdjust="spacingAndGlyphs">-0.04</text></svg></body></html>
